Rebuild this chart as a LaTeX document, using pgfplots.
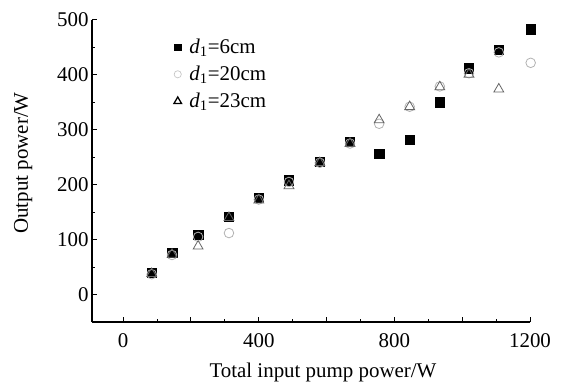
\documentclass[border=0pt]{standalone}
\usepackage{pgfplots}
\pgfplotsset{compat=1.18}
\usepackage{fontspec}
\setmainfont{Liberation Serif}
\begin{document}
\begin{tikzpicture}
\begin{axis}[
  scale only axis, width=438bp, height=302bp,
  xmin=-92, xmax=1200, ymin=-50, ymax=500,
  axis lines*=left,
  axis line style={line width=1.2bp},
  every tick/.style={black, line width=1bp},
  tick align=inside,
  major tick length=5bp, minor tick length=3bp,
  xtick={0,200,...,1200}, xticklabels={0,,400,,800,,1200},
  minor x tick num=1,
  ytick={0,100,...,500}, minor y tick num=1,
  /pgf/number format/assume math mode=true,
  tick label style={font=\fontsize{21}{24}\selectfont},
  xticklabel style={yshift=-8bp},
  label style={font=\fontsize{21}{24}\selectfont},
  xlabel={Total input pump power/W},
  ylabel={Output power/W},
  xlabel style={yshift=-9bp, xshift=12bp},
  ylabel style={yshift=18bp, xshift=8bp},
  legend style={at={(0.18,0.95)}, anchor=north west, draw=none, fill=none,
    font=\fontsize{21}{24}\selectfont, row sep=7bp},
  legend cell align=left,
  clip=false,
]
\addlegendimage{only marks, mark=square*, mark size=3.3bp, black}
\addlegendentry{\hspace*{6bp}\textit{d}\textsubscript{1}=6cm}
\addlegendimage{only marks, mark=o, mark size=3.6bp, gray!45, mark options={line width=0.7bp}}
\addlegendentry{\hspace*{6bp}\textit{d}\textsubscript{1}=20cm}
\addlegendimage{only marks, mark=triangle, mark size=4.3bp, black, mark options={line width=1.3bp}}
\addlegendentry{\hspace*{6bp}\textit{d}\textsubscript{1}=23cm}
\addplot[forget plot, only marks, mark=square*, mark size=4.7bp, black, mark options={fill=black}]
 coordinates {(84,40)(144,76)(221,109)(312,142)(400,176)(489,208)(580,242)(669,278)(755,256)(845,282)(934,350)(1020,412)(1108,446)(1202,483)};
\addplot[forget plot, only marks, mark=o, mark size=4.8bp, gray!60, mark options={line width=0.8bp, fill=white}]
 coordinates {(84,37)(144,72)(221,105)(312,112)(400,173)(489,205)(580,240)(669,275)(755,311)(845,342)(934,379)(1020,403)(1108,441)(1202,422)};
\addplot[forget plot, only marks, mark=triangle, mark size=5.7bp, gray!80!black, mark options={line width=0.8bp}]
 coordinates {(84,38)(144,73)(221,88)(312,140)(400,172)(489,198)(580,240)(669,275)(755,318)(845,342)(934,378)(1020,401)(1108,374)};
\end{axis}
\path (current axis.south west) ++(-92bp,-59bp) rectangle ++(563bp,381bp);
\end{tikzpicture}
\end{document}
